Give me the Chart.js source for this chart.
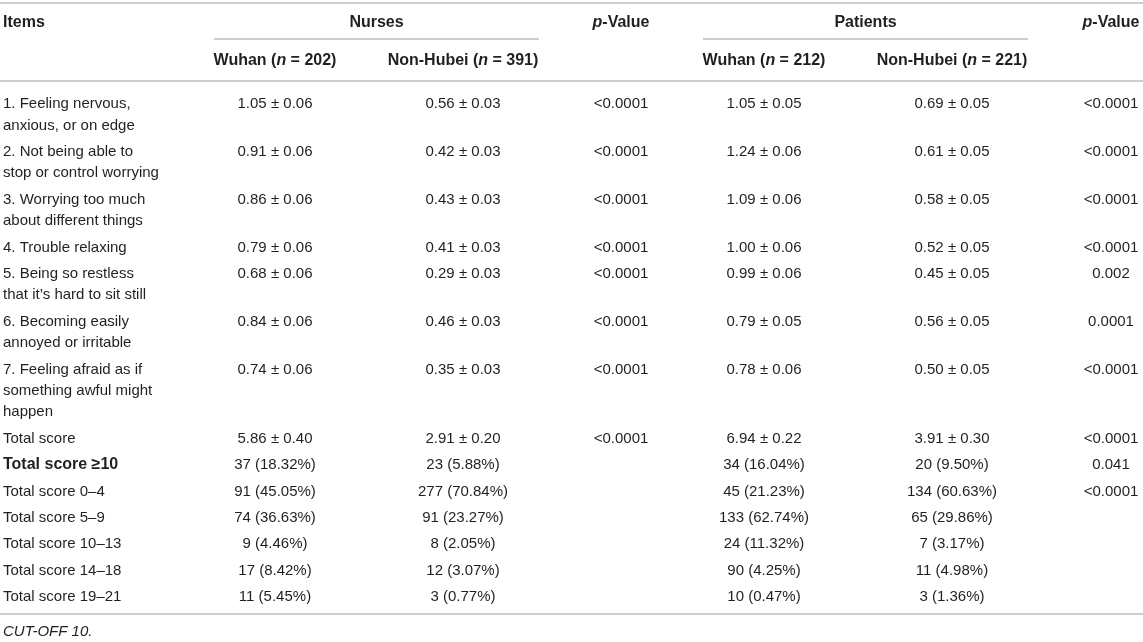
<!DOCTYPE html>
<html>
<head>
<meta charset="utf-8">
<script src="https://cdn.jsdelivr.net/npm/chart.js@4.4.1/dist/chart.umd.min.js"></script>
<style>
    html, body { margin: 0; padding: 0; background: #fff; }
    #wrap { width: 1143px; height: 642px; position: relative; }
</style>
</head>
<body>
<div id="wrap"><canvas id="gadTable"></canvas></div>
<script>
// GAD-7 item scores, nurses vs patients (Wuhan / Non-Hubei)
const items = [
    ['1. Feeling nervous,', 'anxious, or on edge'],
    ['2. Not being able to', 'stop or control worrying'],
    ['3. Worrying too much', 'about different things'],
    ['4. Trouble relaxing'],
    ['5. Being so restless', 'that it\u2019s hard to sit still'],
    ['6. Becoming easily', 'annoyed or irritable'],
    ['7. Feeling afraid as if', 'something awful might', 'happen'],
    ['Total score'],
    ['Total score \u226510'],
    ['Total score 0\u20134'],
    ['Total score 5\u20139'],
    ['Total score 10\u201313'],
    ['Total score 14\u201318'],
    ['Total score 19\u201321']
];
const nursesWuhan = ['1.05 \u00b1 0.06', '0.91 \u00b1 0.06', '0.86 \u00b1 0.06', '0.79 \u00b1 0.06', '0.68 \u00b1 0.06', '0.84 \u00b1 0.06', '0.74 \u00b1 0.06',
    '5.86 \u00b1 0.40', '37 (18.32%)', '91 (45.05%)', '74 (36.63%)', '9 (4.46%)', '17 (8.42%)', '11 (5.45%)'];
const nursesNonHubei = ['0.56 \u00b1 0.03', '0.42 \u00b1 0.03', '0.43 \u00b1 0.03', '0.41 \u00b1 0.03', '0.29 \u00b1 0.03', '0.46 \u00b1 0.03', '0.35 \u00b1 0.03',
    '2.91 \u00b1 0.20', '23 (5.88%)', '277 (70.84%)', '91 (23.27%)', '8 (2.05%)', '12 (3.07%)', '3 (0.77%)'];
const nursesP = ['<0.0001', '<0.0001', '<0.0001', '<0.0001', '<0.0001', '<0.0001', '<0.0001',
    '<0.0001', '', '', '', '', '', ''];
const patientsWuhan = ['1.05 \u00b1 0.05', '1.24 \u00b1 0.06', '1.09 \u00b1 0.06', '1.00 \u00b1 0.06', '0.99 \u00b1 0.06', '0.79 \u00b1 0.05', '0.78 \u00b1 0.06',
    '6.94 \u00b1 0.22', '34 (16.04%)', '45 (21.23%)', '133 (62.74%)', '24 (11.32%)', '90 (4.25%)', '10 (0.47%)'];
const patientsNonHubei = ['0.69 \u00b1 0.05', '0.61 \u00b1 0.05', '0.58 \u00b1 0.05', '0.52 \u00b1 0.05', '0.45 \u00b1 0.05', '0.56 \u00b1 0.05', '0.50 \u00b1 0.05',
    '3.91 \u00b1 0.30', '20 (9.50%)', '134 (60.63%)', '65 (29.86%)', '7 (3.17%)', '11 (4.98%)', '3 (1.36%)'];
const patientsP = ['<0.0001', '<0.0001', '<0.0001', '<0.0001', '0.002', '0.0001', '<0.0001',
    '<0.0001', '0.041', '<0.0001', '', '', '', ''];
const footnote = 'CUT-OFF 10.';

// layout (canvas pixel units, x/y scales run 0..1143 and 0..642)
const W = 1143, H = 642;
const FONT = '"Liberation Sans", Arial, Helvetica, sans-serif';
const FS = 15;      // body text
const FS_BOLD = 16; // headers and bold row
const TEXT = '#231f20';
const RULE = '#bcbcbc';
const colX = [3, 275, 463, 621, 764, 952, 1111];
const firstRowY = 104;
const linePitch = 21.4;
const rowPitch = 26.4;
const boldRows = [8];

// y value of the first text line of each row
const rowY = [];
let cursor = firstRowY;
items.forEach(lines => {
    rowY.push(cursor);
    cursor += rowPitch + (lines.length - 1) * linePitch;
});

const columns = [items, nursesWuhan, nursesNonHubei, nursesP, patientsWuhan, patientsNonHubei, patientsP];

const datasets = columns.map((col, c) => ({
    label: 'col' + c,
    data: col.map((_, i) => ({ x: colX[c], y: rowY[i] })),
    pointRadius: 0,
    pointHoverRadius: 0,
    cells: col,
    align: c === 0 ? 'left' : 'center'
}));

function font(bold, italic) {
    return (italic ? 'italic ' : '') + (bold ? 'bold ' : '') + (bold ? FS_BOLD : FS) + 'px ' + FONT;
}

// draw a run of [text, bold, italic] pieces
function drawRuns(ctx, runs, x, y, align) {
    let total = 0;
    runs.forEach(r => { ctx.font = font(r[1], r[2]); total += ctx.measureText(r[0]).width; });
    let cx = align === 'center' ? x - total / 2 : x;
    ctx.textAlign = 'left';
    runs.forEach(r => {
        ctx.font = font(r[1], r[2]);
        ctx.fillText(r[0], cx, y);
        cx += ctx.measureText(r[0]).width;
    });
}

const tablePlugin = {
    id: 'tablePlugin',
    afterDatasetsDraw(chart) {
        const ctx = chart.ctx;
        const xs = chart.scales.x, ys = chart.scales.y;
        const px = v => xs.getPixelForValue(v);
        const py = v => ys.getPixelForValue(v);
        ctx.save();
        ctx.fillStyle = TEXT;
        ctx.textBaseline = 'middle';

        // rules
        ctx.strokeStyle = RULE;
        ctx.lineWidth = 1.5;
        const hline = (x0, x1, y) => {
            ctx.beginPath();
            ctx.moveTo(px(x0), py(y));
            ctx.lineTo(px(x1), py(y));
            ctx.stroke();
        };
        hline(0, W, 3);
        hline(214, 539, 39);
        hline(703, 1028, 39);
        hline(0, W, 81);
        hline(0, W, 614);

        // header
        drawRuns(ctx, [['Items', true, false]], px(3), py(23), 'left');
        drawRuns(ctx, [['Nurses', true, false]], px(376.5), py(23), 'center');
        drawRuns(ctx, [['Patients', true, false]], px(865.5), py(23), 'center');
        [colX[3], colX[6]].forEach(x => {
            drawRuns(ctx, [['p', true, true], ['-Value', true, false]], px(x), py(23), 'center');
        });
        const sub = [['Wuhan', '202', 1], ['Non-Hubei', '391', 2], ['Wuhan', '212', 4], ['Non-Hubei', '221', 5]];
        sub.forEach(s => {
            drawRuns(ctx, [[s[0] + ' (', true, false], ['n', true, true], [' = ' + s[1] + ')', true, false]],
                px(colX[s[2]]), py(61), 'center');
        });

        // body cells, placed at the dataset points
        chart.data.datasets.forEach((ds, c) => {
            const meta = chart.getDatasetMeta(c);
            meta.data.forEach((pt, i) => {
                const cell = ds.cells[i];
                const lines = Array.isArray(cell) ? cell : [cell];
                const bold = c === 0 && boldRows.includes(i);
                lines.forEach((line, k) => {
                    const y = pt.y + (py(linePitch) - py(0)) * k;
                    drawRuns(ctx, [[line, bold, false]], pt.x, y, ds.align);
                });
            });
        });

        // footnote
        drawRuns(ctx, [[footnote, false, true]], px(3), py(632), 'left');
        ctx.restore();
    }
};

new Chart(document.getElementById('gadTable'), {
    type: 'scatter',
    data: { datasets: datasets },
    options: {
        responsive: true,
        maintainAspectRatio: false,
        animation: false,
        events: [],
        layout: { padding: 0 },
        scales: {
            x: { type: 'linear', min: 0, max: W, display: false },
            y: { type: 'linear', min: 0, max: H, reverse: true, display: false }
        },
        plugins: {
            legend: { display: false },
            tooltip: { enabled: false }
        }
    },
    plugins: [tablePlugin]
});
</script>
</body>
</html>
